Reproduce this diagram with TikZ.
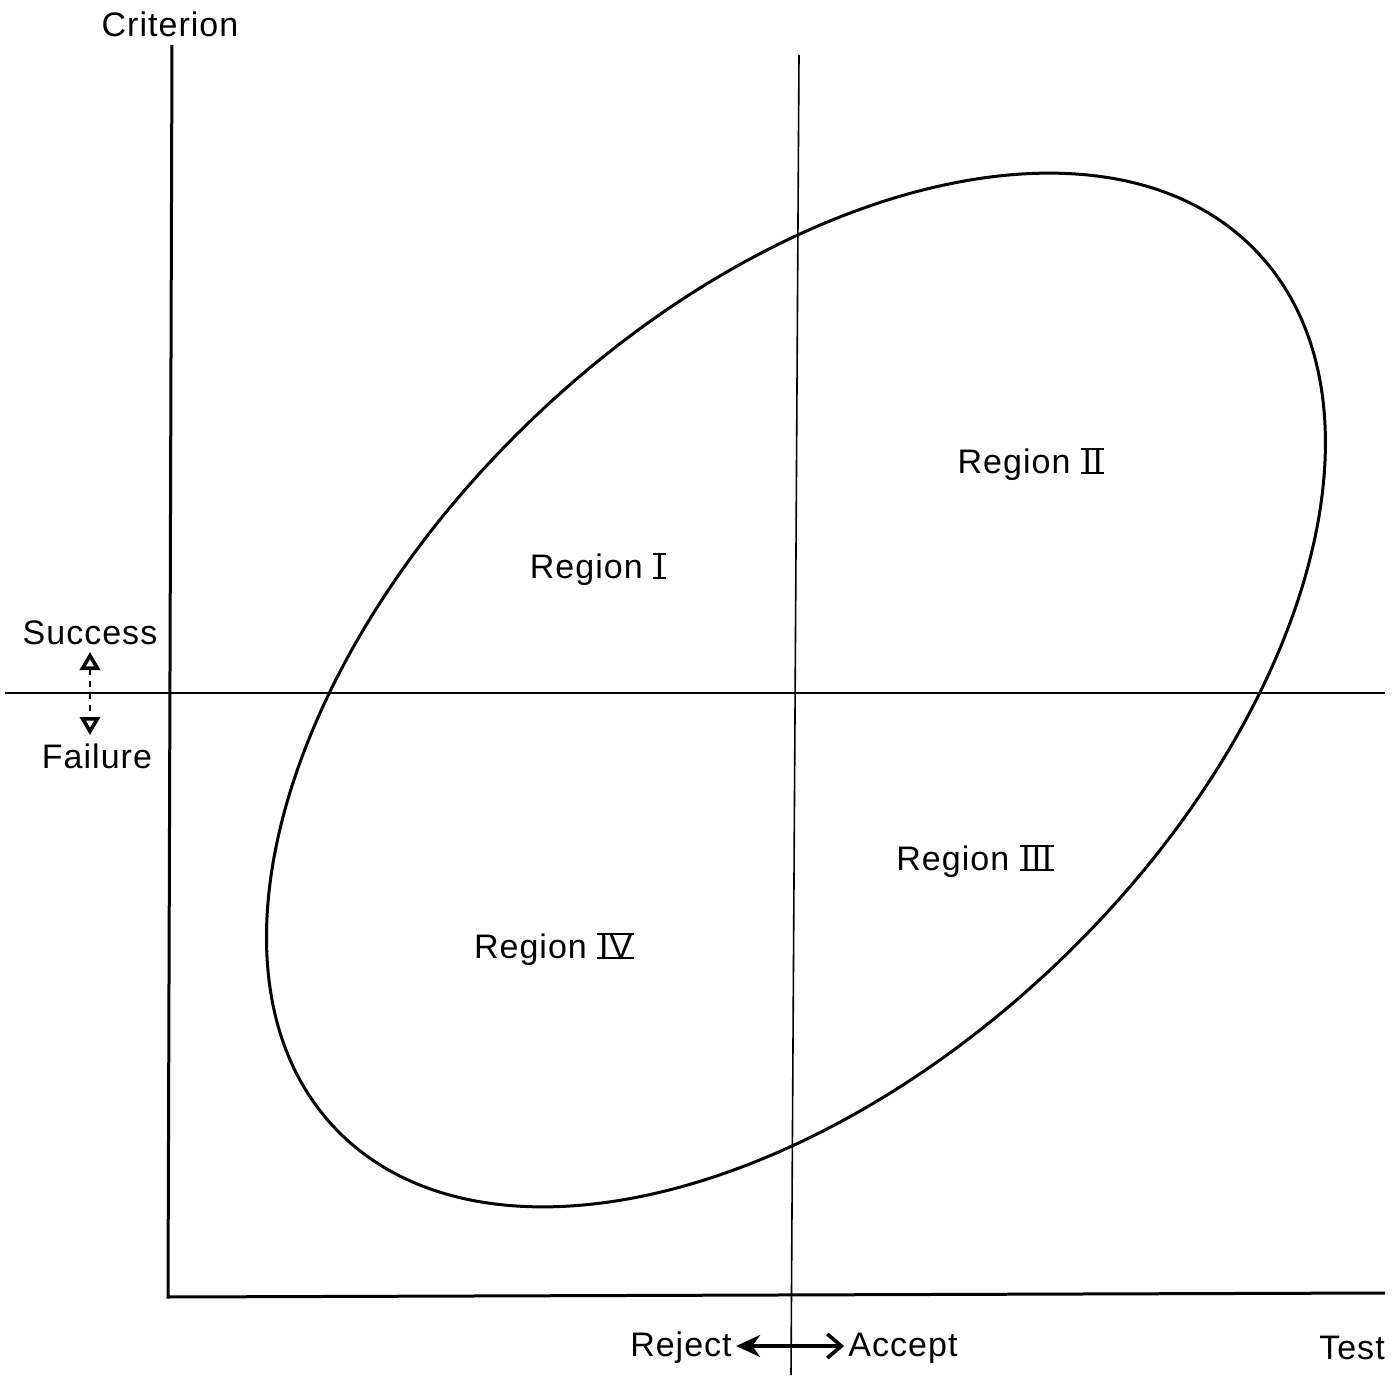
\documentclass[tikz,border=0pt]{standalone}
\usepackage{fontspec}
\setmainfont{Liberation Sans}[LetterSpace=3]
\usetikzlibrary{arrows.meta}
\newcommand\barnum[1]{\setbox0\hbox{\kern0.05em#1\kern0.05em}\rlap{\rule[-0.03em]{\wd0}{0.07em}}\rlap{\rule[0.67em]{\wd0}{0.07em}}\box0}
\begin{document}
\begin{tikzpicture}[x=0.5pt,y=-0.5pt,
  lbl/.style={font=\fontsize{17pt}{20pt}\selectfont, inner sep=0pt},
  axis/.style={line width=1.5pt},
  divider/.style={line width=0.8pt}]
\useasboundingbox (0,0) rectangle (1399,1380);
% axes
\coordinate (ytop) at (172,45);
\coordinate (origin) at (168,1297);
\coordinate (xend) at (1385,1293);
\draw[axis] (ytop) -- (origin) -- (xend);
% divider lines
\coordinate (hl) at (5,693);
\coordinate (hr) at (1385,693);
\draw[line width=1pt] (hl) -- (hr);
\coordinate (vt) at (799,55);
\coordinate (vb) at (791,1375);
\draw[divider] (vt) -- (vb);
% ellipse
\coordinate (c) at (796,690);
\draw[line width=1.5pt, rotate around={43.56:(c)}] (c) ellipse [x radius=318pt, y radius=189pt];
% labels
\node[lbl] (crit) at (170,24) {Criterion};
\node[lbl] (succ) at (90,633) {Success};
\node[lbl] (fail) at (97,756) {Failure};
\node[lbl] (r1) at (598,569) {Region \barnum{I}};
\node[lbl] (r2) at (1031,464) {Region \barnum{II}};
\node[lbl] (r3) at (975,861) {Region \barnum{III}};
\node[lbl] (r4) at (554,949) {Region \barnum{IV}};
\node[lbl] (rej) at (681,1348) {Reject};
\node[lbl] (acc) at (903,1348) {Accept};
\node[lbl] (test) at (1352,1348) {Test};
% arrows
\draw[line width=1.6pt, {Stealth[length=12pt,width=11pt]}-{Straight Barb[length=7pt,width=12pt,line width=1.8pt]}] ([xshift=2pt,yshift=1pt]rej.east) -- ([xshift=-2pt,yshift=1pt]acc.west);
\coordinate (sa) at (90,652);
\coordinate (fa) at (90,735);
\draw[line width=1pt, dashed, {Triangle[open,length=9pt,width=10pt,line width=1.8pt]}-{Triangle[open,length=9pt,width=10pt,line width=1.8pt]}] (sa) -- (fa);
\end{tikzpicture}
\end{document}
